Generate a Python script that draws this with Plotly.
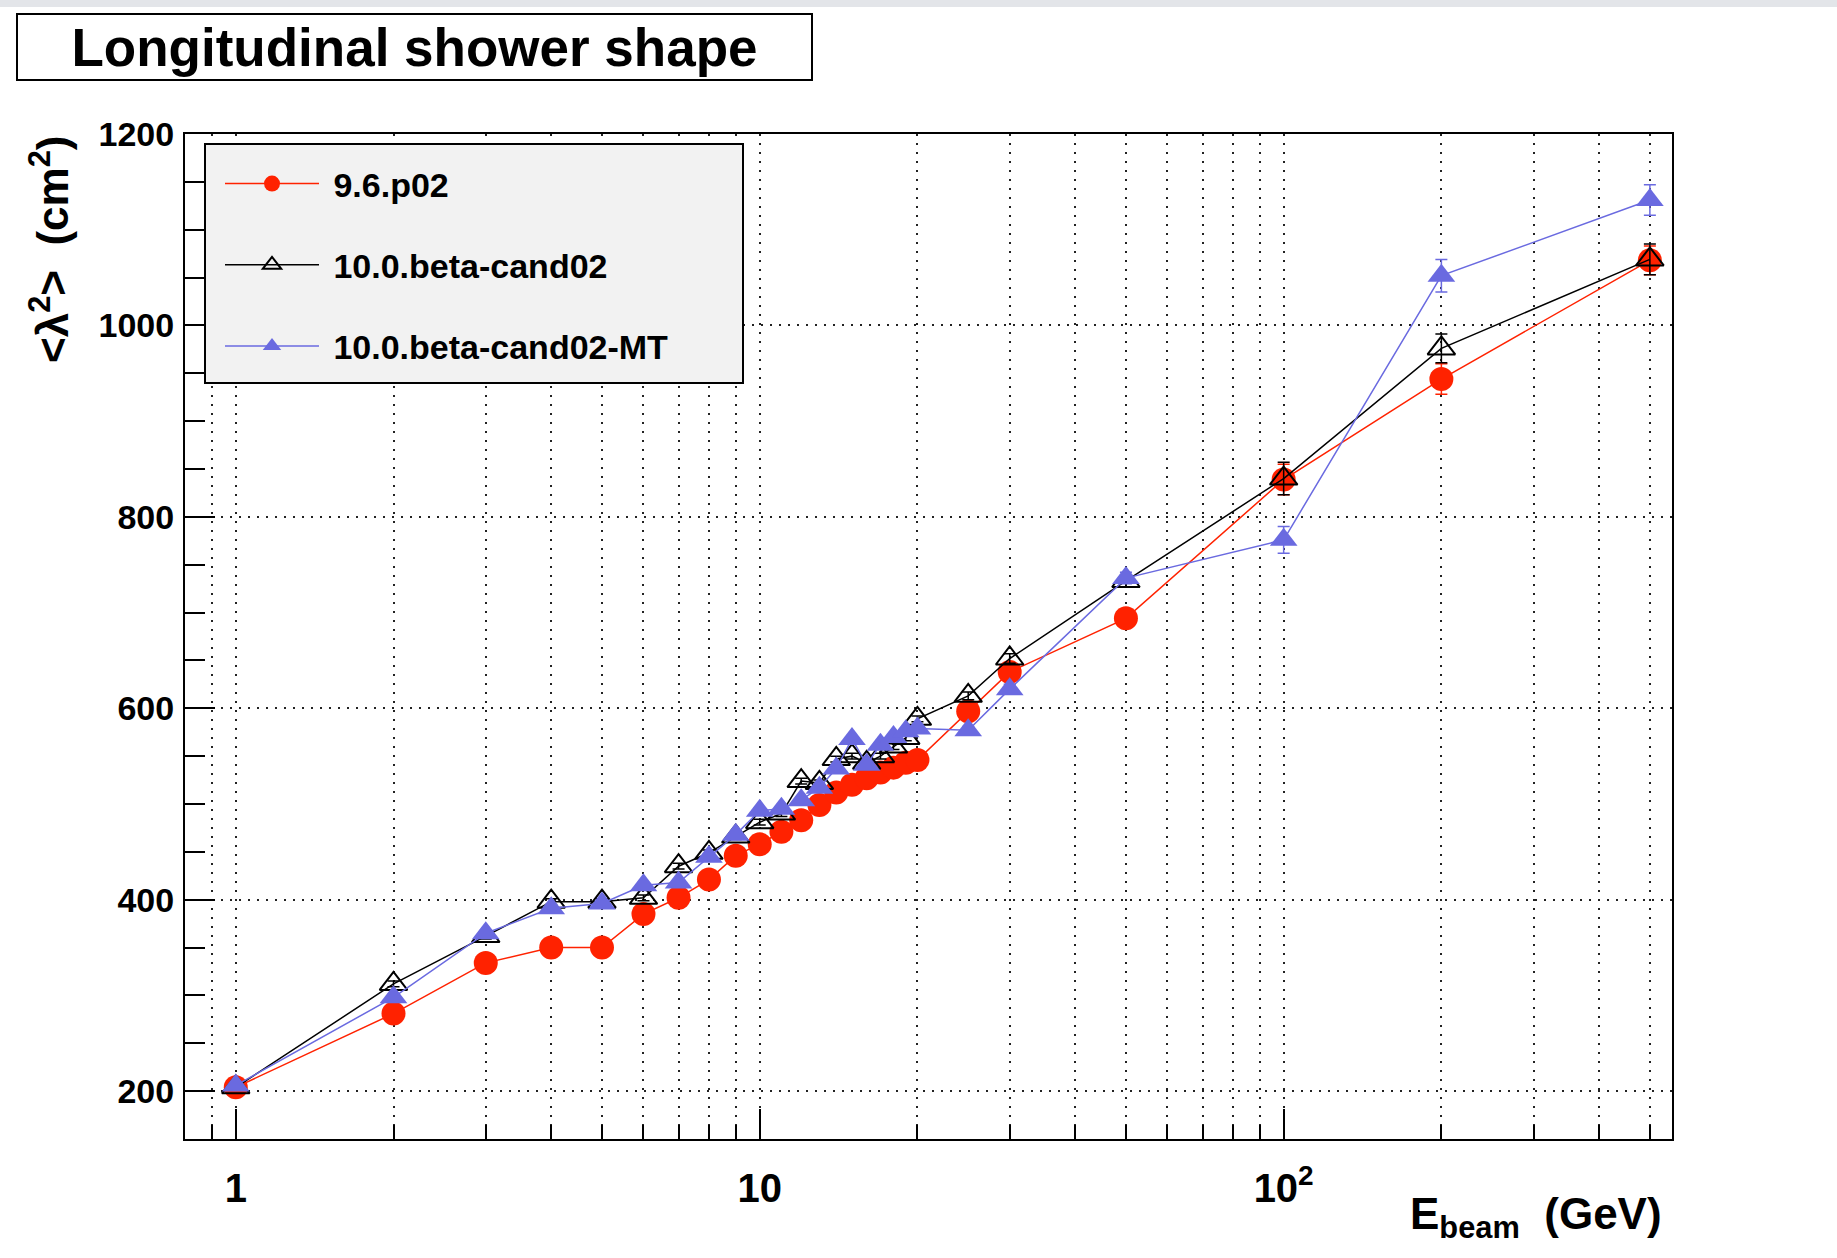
import plotly.graph_objects as go

# ---------------- data ----------------
energy = [1, 2, 3, 4, 5, 6, 7, 8, 9, 10, 11, 12, 13, 14, 15, 16, 17, 18, 19, 20,
          25, 30, 50, 100, 200, 500]

v96 = [204, 281, 334, 350, 350, 385, 402, 421, 446, 458, 471, 483, 499, 512, 520,
       527, 533, 538, 543, 546, 597, 638, 694, 839, 944, 1068]
v96_err = [3, 3, 3, 3, 3, 3, 3, 3, 3, 3, 3, 3, 3, 3, 3, 3, 3, 3, 3, 3,
           4, 5, 6, 16, 16, 15]

v10 = [204, 312, 362, 398, 398, 402, 435, 449, 466, 481, 490, 524, 522, 547, 550,
       543, 550, 560, 569, 589, 613, 652, 733, 840, 976, 1069]
v10_err = [3, 3, 3, 3, 3, 3, 3, 3, 3, 3, 3, 3, 3, 3, 3, 3, 3, 3, 3, 3,
           4, 5, 6, 17, 15, 16]

v10mt = [206, 298, 365, 391, 396, 415, 418, 445, 468, 493, 495, 504, 517, 537, 568,
         541, 562, 570, 576, 579, 577, 620, 736, 776, 1052, 1131]
v10mt_err = [3, 3, 3, 3, 3, 3, 3, 3, 3, 3, 3, 3, 3, 3, 3, 3, 3, 3, 3, 3,
             4, 5, 6, 14, 17, 16]

names = ["9.6.p02", "10.0.beta-cand02", "10.0.beta-cand02-MT"]

x_major = [1, 10, 100]
x_major_text = ["1", "10", "10<sup>2</sup>"]
x_minor = [0.9, 2, 3, 4, 5, 6, 7, 8, 9, 20, 30, 40, 50, 60, 70, 80, 90,
           200, 300, 400, 500]
y_major = [200, 400, 600, 800, 1000, 1200]

RED = "#ff2200"
BLACK = "#000000"
BLUE = "#6a6ae0"
FONT = "Liberation Sans"

fig = go.Figure()

fig.add_trace(go.Scatter(
    x=energy, y=v96, name="&nbsp;" + names[0], mode="lines+markers", legendgroup="a",
    line=dict(color=RED, width=1.5),
    marker=dict(symbol="circle", size=24, color=RED),
    error_y=dict(type="data", array=v96_err, color=RED, thickness=1.5, width=6),
))
fig.add_trace(go.Scatter(
    x=energy, y=v10, name="&nbsp;" + names[1], mode="lines+markers", legendgroup="b",
    line=dict(color=BLACK, width=1.5),
    marker=dict(symbol="triangle-up-open", size=24, color=BLACK,
                line=dict(color=BLACK, width=2)),
    error_y=dict(type="data", array=v10_err, color=BLACK, thickness=1.5, width=6),
))
fig.add_trace(go.Scatter(
    x=energy, y=v10mt, name="&nbsp;" + names[2], mode="lines+markers", legendgroup="c",
    line=dict(color=BLUE, width=1.5),
    marker=dict(symbol="triangle-up", size=24, color=BLUE),
    error_y=dict(type="data", array=v10mt_err, color=BLUE, thickness=1.5, width=6),
))

W, H = 1837, 1258
L, R, T, B = 185, 165, 134, 119
pw, ph = W - L - R, H - T - B


def px(xpix):
    return (xpix - L) / pw


def py(ypix):
    return (H - B - ypix) / ph


grid_dash = "2px,7px"

fig.update_layout(
    width=W, height=H,
    margin=dict(l=L, r=R, t=T, b=B),
    paper_bgcolor="white", plot_bgcolor="white",
    font=dict(family=FONT, color="black", weight="bold"),
    showlegend=True,
    legend=dict(
        x=px(220), y=py(155), xanchor="left", yanchor="top",
        bgcolor="rgba(0,0,0,0)", borderwidth=0,
        font=dict(family=FONT, size=34, color="black", weight="bold"),
        tracegroupgap=34, itemwidth=94, traceorder="grouped",
    ),
    xaxis=dict(
        type="log",
        range=[-0.09691, 2.7412],
        tickmode="array", tickvals=x_major, ticktext=x_major_text,
        ticks="inside", ticklen=30, tickwidth=1.5, tickcolor="black",
        showline=True, linecolor="black", linewidth=2, mirror=True,
        showgrid=True, gridcolor="#222", gridwidth=2, griddash=grid_dash,
        tickfont=dict(family=FONT, size=40, color="black", weight="bold"),
        ticklabelstandoff=13,
        zeroline=False,
        minor=dict(tickmode="array", tickvals=x_minor, ticks="inside",
                   ticklen=14, tickwidth=1.5, tickcolor="black",
                   showgrid=True, gridcolor="#222", gridwidth=2,
                   griddash=grid_dash),
    ),
    yaxis=dict(
        range=[150, 1200],
        tickmode="array", tickvals=y_major,
        ticks="inside", ticklen=30, tickwidth=1.5, tickcolor="black",
        showline=True, linecolor="black", linewidth=2, mirror=True,
        showgrid=True, gridcolor="#222", gridwidth=2, griddash=grid_dash,
        tickfont=dict(family=FONT, size=34, color="black", weight="bold"),
        ticklabelstandoff=2,
        zeroline=False,
        minor=dict(dtick=50, tick0=0, ticks="inside", ticklen=20,
                   tickwidth=1.5, tickcolor="black", showgrid=False),
    ),
)

# legend box
fig.add_shape(type="rect", xref="paper", yref="paper",
              x0=px(205), x1=px(743), y0=py(383), y1=py(144),
              fillcolor="#f2f2f2", line=dict(color="black", width=2),
              layer="above")

# top grey strip
fig.add_shape(type="rect", xref="paper", yref="paper",
              x0=px(0), x1=px(W), y0=py(7), y1=py(0),
              fillcolor="#e3e5e9", line=dict(width=0), layer="below")

# title box
fig.add_annotation(
    xref="paper", yref="paper", x=px(414), y=py(46.5),
    xanchor="center", yanchor="middle", showarrow=False,
    text="Longitudinal shower shape",
    font=dict(family=FONT, size=53, color="black", weight="bold"),
    width=793, height=64, bgcolor="white",
    bordercolor="black", borderwidth=2, borderpad=0,
)

# x title
fig.add_annotation(
    xref="paper", yref="paper", x=px(1664), y=py(1217),
    xanchor="right", yanchor="middle", showarrow=False,
    text="E<sub>beam</sub>&nbsp;&nbsp;(GeV)",
    font=dict(family=FONT, size=44, color="black", weight="bold"),
)

# y title
fig.add_annotation(
    xref="paper", yref="paper", x=px(49), y=py(249),
    xanchor="center", yanchor="middle", showarrow=False, textangle=-90,
    text="&lt;λ<sup>2</sup>&gt;&nbsp;&nbsp;(cm<sup>2</sup>)",
    font=dict(family=FONT, size=44, color="black", weight="bold"),
)

fig.write_html("out.html",
               config={"displayModeBar": False},
               post_script="document.body.style.margin='0';"
                           "document.body.style.padding='0';")
